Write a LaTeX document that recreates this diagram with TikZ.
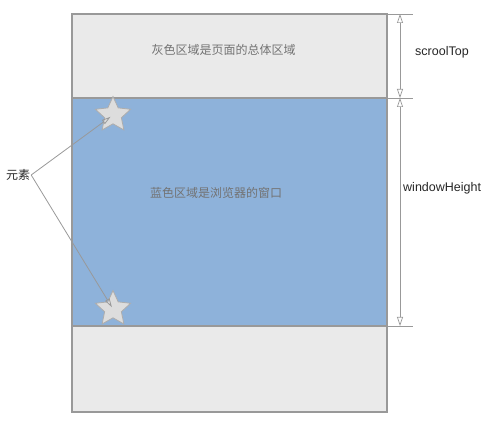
\documentclass[tikz,border=0pt]{standalone}
\usepackage{fontspec}
\setmainfont{Liberation Sans}
\newfontfamily\cjk{Noto Sans CJK SC}
\usetikzlibrary{shapes.geometric,arrows.meta,positioning,calc}

\definecolor{pagegray}{HTML}{EAEAEA}
\definecolor{winblue}{HTML}{8EB2DA}
\definecolor{edgegray}{HTML}{999999}
\definecolor{stargray}{HTML}{DDDDDD}

\begin{document}
\begin{tikzpicture}[x=1pt,y=-1pt,
    area/.style={rectangle,draw=edgegray,line width=1.2pt,inner sep=0pt,outer sep=0pt},
    elem/.style={star,star points=5,star point ratio=2.1,minimum size=37pt,
		inner sep=0pt,draw=edgegray!80,line width=0.8pt,fill=stargray},
% Dimension style
    dim/.style={draw=edgegray,line width=0.7pt,
		{Triangle[open,length=9pt,width=6pt]}-{Triangle[open,length=9pt,width=6pt]}},
    tick/.style={draw=edgegray,line width=0.9pt},
    note/.style={font=\cjk\fontsize{12}{14}\selectfont,text=black!55},
    label/.style={font=\fontsize{12.5}{15}\selectfont,text=black!85,inner sep=0pt,anchor=west}
    ]
\useasboundingbox (0,0) rectangle (490,435);
% page and window
\node [area,fill=pagegray,minimum width=315pt,minimum height=398pt] (page) at (229.5,213) {};
\node [area,fill=winblue,minimum width=315pt,minimum height=228pt] (window) at (229.5,212) {};
\node [note] (pagetext) at (223.5,50) {灰色区域是页面的总体区域};
\node [note] (wintext) at (216,193) {蓝色区域是浏览器的窗口};

% elements
\node [elem] (startop) at (113,115) {};
\node [elem] (starbot) at (113,309) {};
\node [font=\cjk\fontsize{12}{14}\selectfont,text=black!85,inner sep=1pt] (elemtext) at (18,175) {元素};
\draw [edgegray,line width=0.8pt,-{Triangle[open,length=9pt,width=5pt]},shorten >=3pt]
    (elemtext.east) -- (startop.center);
\draw [edgegray,line width=0.8pt,-{Triangle[open,length=9pt,width=5pt]},shorten >=2pt]
    (elemtext.east) -- (starbot.center);

% dimensions
\coordinate (t0) at (400,14);
\coordinate (t1) at (400,98);
\coordinate (t2) at (400,326);
\draw [tick] (page.north east) -- ++(26,0);
\draw [tick] (window.north east) -- ++(26,0);
\draw [tick] (window.south east) -- ++(26,0);
\draw [dim] (t0) -- (t1);
\draw [dim] (t1) -- (t2);
\node [label] (scrolltop) at (415,52) {scroolTop};
\node [label] (winheight) at (403,188) {windowHeight};
\end{tikzpicture}
\end{document}
